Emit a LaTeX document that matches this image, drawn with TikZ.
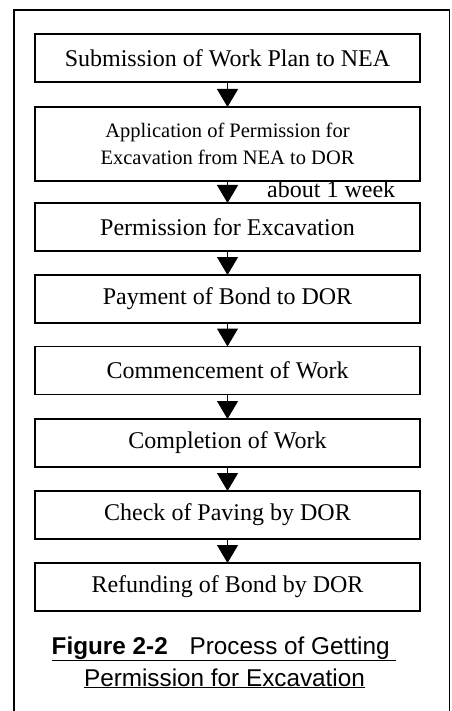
\documentclass[tikz,border=0pt]{standalone}
\usepackage{fontspec}
\setmainfont{Liberation Serif}
\newfontfamily\capfont{Liberation Sans}
\usetikzlibrary{arrows.meta}
\tikzset{
	stepbox/.style={draw, line width=1.8pt, minimum width=385pt, minimum height=48pt, inner sep=0pt, font=\fontsize{24}{28}\selectfont},
	flow/.style={line width=1pt, -{Triangle[width=21pt,length=18pt]}, shorten >=-0.9pt}
}
\begin{document}
\begin{tikzpicture}[x=1pt, y=-1pt]
		\useasboundingbox (0, 0) rectangle (451, 711);
		\draw[line width=1.2pt] (14, 10) rectangle (449.5, 720);
		
		\node[stepbox] (plan) at (227.5, 58) {Submission of Work Plan to NEA};
		\node[stepbox, minimum height=74pt, align=center, font=\fontsize{20.5}{27}\selectfont] (apply) at (227.5, 144) {Application of Permission for\\Excavation from NEA to DOR};
		\node[stepbox] (permit) at (227.5, 227) {Permission for Excavation};
		\node[stepbox] (bond) at (227.5, 299) {Payment of Bond to DOR};
		\node[stepbox] (start) at (227.5, 370.5) {Commencement of Work};
		\node[stepbox] (finish) at (227.5, 443) {Completion of Work};
		\node[stepbox] (check) at (227.5, 515) {Check of Paving by DOR};
		\node[stepbox] (refund) at (227.5, 587) {Refunding of Bond by DOR};
		
		\draw[flow] (plan) -- (apply);
		\draw[flow] (apply) -- (permit);
		\draw[flow] (permit) -- (bond);
		\draw[flow] (bond) -- (start);
		\draw[flow] (start) -- (finish);
		\draw[flow] (finish) -- (check);
		\draw[flow] (check) -- (refund);
		\node[anchor=base west, inner sep=0pt, font=\fontsize{24}{28}\selectfont] (week) at (267, 197) {about 1 week};
		
		\node[anchor=base, inner sep=0pt, font=\capfont\fontsize{24.3}{28}\selectfont] (cap1) at (224, 654) {\underline{\textbf{Figure 2-2}\hspace{0.9em}Process of Getting }};
		\node[anchor=base, inner sep=0pt, font=\capfont\fontsize{24.3}{28}\selectfont] (cap2) at (224.5, 686) {\underline{Permission for Excavation}};
	\end{tikzpicture}
\end{document}
